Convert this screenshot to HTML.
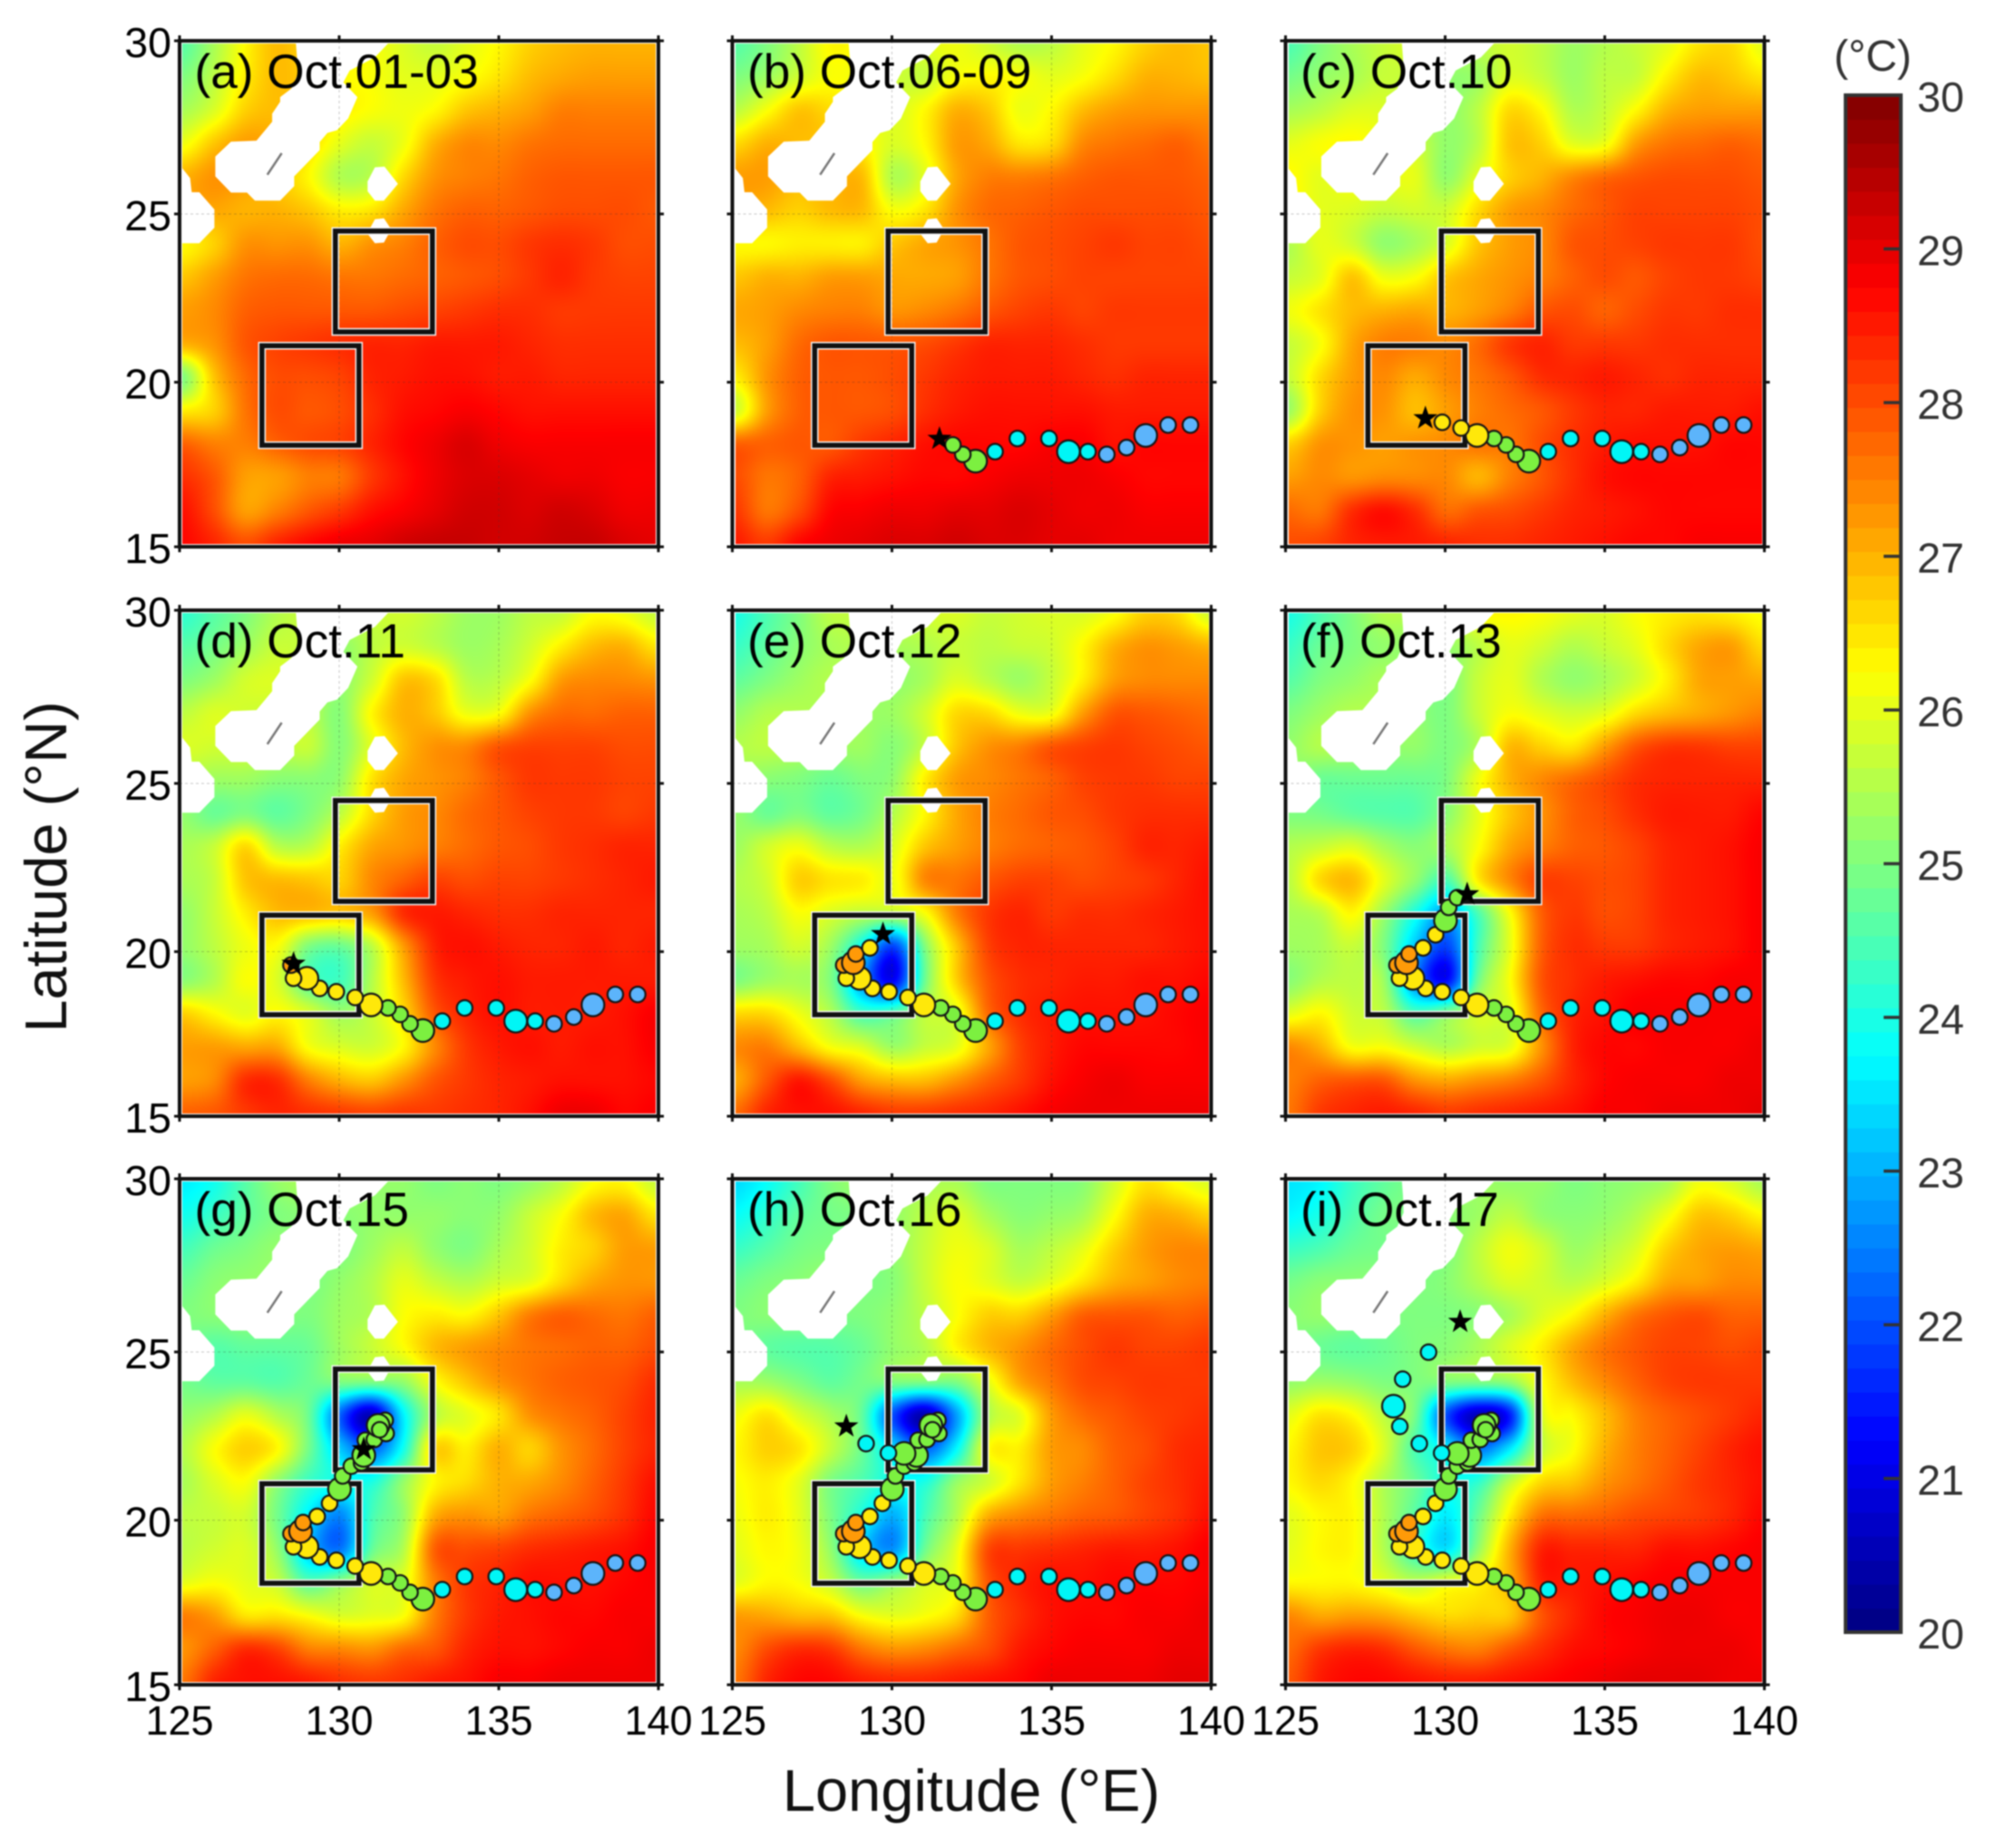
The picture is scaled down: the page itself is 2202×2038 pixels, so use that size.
<!DOCTYPE html>
<html lang="en">
<head>
<meta charset="utf-8">
<title>SST maps, Oct. 01-17</title>
<style>
html,body{margin:0;padding:0;background:#fff;}
#figure{position:relative;width:2202px;height:2038px;overflow:hidden;background:#fff;filter:blur(0.8px);font-family:"Liberation Sans",Arial,sans-serif;}
#figure canvas{position:absolute;display:block;}
#overlay{position:absolute;left:0;top:0;}
</style>
</head>
<body>
<div id="figure">
<svg id="overlay" width="2202" height="2038" viewBox="0 0 2202 2038" xmlns="http://www.w3.org/2000/svg"></svg>
</div>
<script>
// ---- chart data ----
const panelLabels = ["(a) Oct.01-03","(b) Oct.06-09","(c) Oct.10","(d) Oct.11","(e) Oct.12","(f) Oct.13","(g) Oct.15","(h) Oct.16","(i) Oct.17"];
const lonTicks = [125,130,135,140];
const latTicks = [15,20,25,30];
const colorbarTicks = [20,21,22,23,24,25,26,27,28,29,30];
const trackCounts = [0,13,17,21,24,28,36,39,43];
const starLon = [null,131.49,129.38,128.57,129.72,130.69,130.77,128.57,130.47];
const starLat = [null,18.2,18.81,19.52,20.4,21.58,21.98,22.66,25.76];
const trackLon = [139.35,138.65,137.95,137.35,136.73,136.14,135.53,134.92,133.93,133.23,132.62,132.22,131.91,131.53,131.0,130.5,129.91,129.39,128.99,128.57,128.49,128.79,128.87,129.31,129.7,130.01,130.11,130.38,130.7,130.77,130.82,131.1,131.47,131.44,131.22,131.27,130.38,129.89,129.19,128.58,128.38,128.67,129.48];
const trackLat = [18.61,18.61,18.3,17.94,17.74,17.82,17.82,18.21,18.21,17.82,17.54,17.74,18.02,18.21,18.3,18.52,18.69,18.79,19.09,19.09,19.48,19.55,19.81,19.99,20.38,20.8,21.19,21.48,21.58,21.8,22.25,22.27,22.45,22.84,22.69,22.56,21.86,21.87,22.15,22.66,23.26,24.06,24.86];
const trackClass = ["B","B","B","B","B","C","C","C","C","C","G","G","G","G","Y","Y","Y","Y","Y","Y","O","O","O","Y","Y","G","G","G","G","G","G","G","G","G","G","G","G","C","C","C","C","C","C"];
const trackBig = [0,0,1,0,0,0,1,0,0,0,1,0,0,0,1,0,0,0,1,0,0,1,0,0,0,1,0,0,0,1,0,0,0,0,1,0,1,0,0,0,1,0,0];
const boxLon = [[127.58,130.62],[129.88,132.92]];
const boxLat = [[18.01,20.96],[21.37,24.36]];
const landMain = [[128.64,30],[131.61,30],[131.12,29.51],[130.33,29.12],[130.13,28.77],[130.57,28.33],[130.28,27.7],[129.93,27.35],[129.63,27.27],[129.39,27.0],[129.39,26.76],[128.59,25.98],[128.59,25.69],[128.15,25.26],[127.36,25.26],[127.11,25.5],[126.61,25.5],[126.12,25.98],[126.12,26.57],[126.61,27.01],[127.41,27.04],[127.9,27.6],[127.9,27.84],[128.15,28.19],[128.15,28.33],[128.5,28.58],[128.7,29.0],[128.68,29.5]];
const landIslandA = [[130.89,25.83],[131.12,26.25],[131.42,26.27],[131.84,25.76],[131.4,25.26],[131.12,25.26],[130.89,25.54]];
const landIslandB = [[130.89,24.31],[131.12,24.71],[131.4,24.74],[131.63,24.41],[131.4,24.02],[131.12,24.0],[130.89,24.28]];
const landWest = [[125,26.23],[125.08,26.23],[125.33,25.93],[125.38,25.51],[125.62,25.51],[126.09,25.0],[126.09,24.46],[125.62,24.0],[125,24.0]];
const landSliver = [[127.75,26.03],[128.2,26.67]];

// SST on a 1-degree grid: rows lat 30..15, columns lon 125..140
const sstA = [
[24.6,25.4,26.3,26.9,26.6,26.3,26.2,25.9,25.7,26.0,26.3,26.7,26.9,27.0,27.0,27.0],
[25.0,25.6,26.4,26.9,26.7,26.3,26.2,26.0,26.0,26.2,26.5,26.9,27.1,27.2,27.2,27.2],
[25.4,25.9,26.7,26.9,26.7,26.4,26.2,26.1,26.3,26.8,27.0,27.2,27.5,27.5,27.5,27.5],
[26.1,26.8,27.2,27.0,26.6,26.0,25.7,26.1,27.0,27.4,27.4,27.6,27.7,27.7,27.7,27.7],
[27.0,27.3,27.2,26.8,26.3,25.5,25.6,26.6,27.3,27.5,27.6,27.8,27.9,27.9,27.9,27.9],
[27.0,27.1,27.0,27.0,26.8,26.4,26.5,27.1,27.6,27.8,27.8,27.9,28.0,28.0,28.0,27.9],
[26.3,26.7,27.3,27.3,27.3,27.0,27.3,27.5,27.8,28.0,28.0,28.2,28.3,28.2,28.0,28.0],
[26.8,27.2,27.6,27.7,27.7,27.6,27.6,27.7,27.8,27.9,28.0,28.2,28.4,28.2,28.1,28.1],
[27.2,27.4,27.8,27.9,27.9,27.9,27.9,28.0,28.1,28.2,28.3,28.3,28.2,28.2,28.2,28.2],
[27.0,27.3,27.9,28.1,28.2,28.3,28.4,28.4,28.5,28.5,28.5,28.4,28.3,28.3,28.3,28.3],
[25.0,26.8,27.7,28.0,28.0,28.1,28.4,28.5,28.6,28.6,28.5,28.5,28.4,28.4,28.4,28.4],
[26.4,26.7,27.6,28.0,27.9,28.0,28.3,28.6,28.7,28.8,28.7,28.6,28.6,28.6,28.6,28.6],
[27.8,27.5,27.5,27.8,28.0,28.1,28.4,28.7,28.9,29.1,28.9,28.8,28.8,28.8,28.8,28.8],
[28.3,27.9,27.2,27.2,27.5,27.6,28.2,28.6,28.9,29.1,29.1,29.0,28.9,28.9,28.8,28.8],
[28.6,28.0,27.2,27.5,27.9,28.2,28.6,28.8,29.0,29.2,29.2,29.1,29.2,29.1,28.9,28.9],
[28.7,28.4,28.0,28.4,28.7,28.9,29.0,29.2,29.3,29.3,29.2,29.2,29.3,29.3,29.1,29.0]];
const sstB = [
[24.6,25.0,25.6,26.3,26.2,25.9,26.0,26.1,25.8,25.5,25.6,26.0,26.3,26.7,26.9,26.8],
[25.0,25.3,25.8,26.2,26.1,25.8,25.7,26.2,26.3,26.2,26.0,26.2,26.6,27.0,27.0,26.9],
[25.6,26.2,26.8,26.6,26.3,25.9,26.3,27.0,26.8,26.1,26.3,26.9,27.2,27.3,27.3,27.3],
[26.6,27.0,26.9,26.8,26.4,25.9,26.3,27.2,27.1,26.5,26.6,27.4,27.6,27.7,27.8,27.6],
[27.2,27.2,26.9,26.9,26.9,25.5,26.0,27.1,27.5,27.5,27.6,27.8,27.9,27.9,27.9,27.8],
[27.0,26.9,26.7,26.9,26.9,26.2,26.5,27.3,27.7,27.8,27.9,28.0,28.0,28.0,28.0,27.9],
[26.3,26.3,26.4,26.4,26.4,26.8,27.1,27.3,27.6,27.9,28.0,28.1,28.2,28.1,28.1,28.0],
[26.8,27.0,27.0,27.2,27.2,27.1,27.1,27.2,27.6,27.9,28.0,28.1,28.1,28.1,28.1,28.1],
[27.1,27.2,27.4,27.5,27.5,27.3,27.4,27.6,27.9,28.1,28.2,28.1,28.2,28.2,28.2,28.2],
[26.9,27.2,27.7,27.9,27.9,27.9,28.0,28.2,28.4,28.4,28.4,28.3,28.2,28.2,28.2,28.2],
[26.4,27.3,27.8,27.9,27.9,28.0,28.2,28.4,28.5,28.5,28.5,28.4,28.3,28.4,28.4,28.4],
[25.8,27.2,27.8,27.9,27.9,28.0,28.3,28.5,28.6,28.6,28.6,28.6,28.5,28.5,28.5,28.5],
[27.8,27.8,27.9,27.9,28.2,28.4,28.6,28.7,28.7,28.7,28.8,28.8,28.6,28.7,28.7,28.7],
[28.0,27.6,27.8,28.4,28.5,28.6,28.7,28.7,28.8,28.9,28.9,28.9,28.8,28.7,28.7,28.7],
[28.2,27.6,28.0,28.7,28.8,28.9,28.9,29.0,29.0,29.1,29.0,28.9,28.9,28.8,28.8,28.8],
[28.5,28.2,28.7,28.9,29.0,29.1,29.1,29.2,29.1,29.1,29.0,29.0,28.9,28.9,28.9,28.9]];
const sstC = [
[24.5,25.0,25.4,25.7,25.9,25.6,25.6,25.8,25.6,25.3,25.5,25.7,26.0,26.5,26.6,26.0],
[24.9,25.2,25.4,25.7,25.6,25.2,25.3,25.9,25.7,25.3,25.6,25.7,26.4,26.9,26.8,26.5],
[25.4,25.6,25.9,25.9,25.6,25.2,25.6,26.6,26.3,25.5,25.7,26.3,27.0,27.2,27.2,27.2],
[26.0,26.2,26.3,26.1,25.8,25.2,25.6,26.8,26.7,26.0,26.1,27.2,27.6,27.7,27.8,27.7],
[26.3,26.0,26.2,26.0,26.0,25.2,26.0,26.7,27.0,27.4,27.7,27.9,28.0,28.0,28.0,27.9],
[26.2,26.0,25.9,25.7,25.8,25.8,26.6,27.2,27.4,27.7,27.9,28.1,28.1,28.1,28.1,28.0],
[25.5,26.0,25.8,25.2,25.4,25.9,26.8,27.2,27.4,27.9,28.0,28.1,28.2,28.2,28.2,28.0],
[25.7,26.0,26.8,26.1,26.2,26.8,27.1,27.3,27.5,27.8,28.0,27.9,28.1,28.2,28.2,28.1],
[26.1,26.5,26.9,27.0,27.1,27.0,27.2,27.5,27.9,28.0,27.8,28.0,28.2,28.2,28.3,28.3],
[25.7,26.2,27.1,27.5,27.5,27.4,27.7,28.2,28.4,28.2,28.2,28.2,28.3,28.3,28.3,28.3],
[25.7,26.6,27.2,27.4,27.1,27.4,27.6,27.9,28.3,28.4,28.5,28.4,28.3,28.4,28.4,28.4],
[25.3,26.7,27.3,27.3,26.9,27.2,27.5,27.7,27.9,28.2,28.4,28.4,28.5,28.5,28.5,28.6],
[26.7,27.3,27.3,27.2,27.3,27.4,27.6,27.6,28.0,28.3,28.5,28.6,28.6,28.6,28.7,28.7],
[27.2,27.4,27.3,27.4,27.4,27.4,27.0,27.5,27.9,28.3,28.6,28.7,28.7,28.7,28.7,28.7],
[27.7,27.6,28.3,28.6,28.3,27.7,27.9,28.0,28.2,28.4,28.5,28.6,28.7,28.7,28.7,28.7],
[28.0,28.1,28.4,28.5,28.5,28.4,28.3,28.3,28.4,28.5,28.6,28.7,28.7,28.8,28.8,28.8]];
const sstD = [
[24.2,24.6,25.0,25.5,25.7,25.6,25.7,25.8,25.6,25.3,25.3,25.6,25.7,26.2,26.1,25.7],
[24.6,24.9,25.3,25.7,25.6,25.2,25.6,25.8,25.6,25.3,25.4,25.8,26.4,26.9,27.0,26.5],
[25.0,25.3,25.8,25.9,25.7,25.2,25.8,26.8,26.6,25.6,25.6,26.2,27.2,27.4,27.4,27.3],
[25.6,25.9,25.8,25.7,25.6,25.1,26.3,27.0,26.8,26.1,26.2,27.3,27.7,27.7,27.8,27.8],
[25.9,25.8,25.8,25.6,25.7,25.1,26.0,26.9,27.3,27.4,27.9,28.1,28.1,28.1,28.0,28.0],
[25.5,25.3,25.3,25.1,25.1,25.2,26.5,27.1,27.3,27.5,27.9,28.2,28.2,28.2,28.1,28.1],
[25.2,24.8,25.0,24.7,25.0,25.6,26.6,27.2,27.4,27.7,27.9,28.1,28.2,28.2,28.1,28.2],
[25.4,25.7,26.6,25.6,25.6,26.4,27.1,27.3,27.5,27.7,27.9,28.0,28.2,28.3,28.4,28.4],
[25.4,25.7,26.8,26.9,26.8,26.7,27.4,27.8,28.1,28.0,28.1,28.1,28.2,28.3,28.4,28.5],
[25.2,25.7,26.4,26.9,26.9,26.8,27.2,28.3,28.5,28.4,28.3,28.3,28.4,28.4,28.4,28.4],
[25.2,25.6,26.1,26.2,25.0,24.8,25.6,27.2,28.4,28.6,28.5,28.4,28.4,28.5,28.4,28.5],
[25.1,25.5,26.2,25.9,24.6,24.4,25.5,26.9,28.2,28.5,28.6,28.5,28.5,28.5,28.5,28.5],
[26.7,26.3,26.0,26.3,25.9,25.3,25.7,26.6,27.9,28.4,28.6,28.5,28.5,28.5,28.6,28.8],
[27.2,27.2,27.1,27.1,26.2,25.9,25.8,26.3,27.4,28.2,28.5,28.6,28.5,28.6,28.6,28.8],
[27.2,27.4,28.3,28.3,27.5,27.0,26.8,27.3,27.9,28.2,28.4,28.5,28.6,28.6,28.6,28.7],
[27.8,27.9,28.2,28.4,28.3,28.2,28.1,28.2,28.2,28.3,28.4,28.6,28.9,28.9,28.7,28.8]];
const sstE = [
[24.0,24.5,25.0,25.6,25.6,25.6,25.8,25.9,25.7,25.8,25.9,25.9,26.2,26.7,26.6,25.8],
[24.3,24.7,25.1,25.4,25.5,25.4,25.5,25.7,25.6,25.7,25.8,26.3,27.0,27.3,27.2,27.0],
[24.7,25.0,25.3,25.5,25.4,25.2,25.4,25.9,25.6,25.3,25.7,26.4,27.2,27.4,27.4,27.4],
[25.2,25.5,25.5,25.4,25.3,25.3,25.8,26.6,26.6,26.1,26.1,27.2,27.9,27.9,27.8,27.7],
[25.5,25.6,25.5,25.3,25.3,25.1,25.7,26.8,27.3,27.5,27.9,28.1,28.2,28.1,28.0,27.9],
[25.3,25.1,25.0,24.8,25.0,25.2,26.4,27.2,27.4,27.6,27.8,28.1,28.2,28.2,28.1,28.1],
[25.2,24.8,25.0,24.7,24.9,25.5,26.3,27.1,27.5,27.7,27.9,28.0,28.2,28.3,28.3,28.3],
[25.3,25.8,26.1,25.6,25.5,25.9,26.8,27.2,27.5,27.7,27.8,27.9,28.1,28.4,28.4,28.5],
[25.5,25.8,26.7,26.5,26.4,26.1,27.4,27.6,27.9,28.1,28.1,28.0,28.1,28.2,28.4,28.6],
[25.4,25.6,26.2,25.9,25.6,25.6,26.2,27.5,28.2,28.4,28.2,28.3,28.3,28.4,28.5,28.6],
[25.3,25.4,25.8,25.3,23.8,21.9,25.0,26.8,28.1,28.4,28.4,28.4,28.4,28.4,28.5,28.6],
[25.0,25.3,25.4,25.0,22.8,21.2,24.8,26.7,27.9,28.3,28.4,28.5,28.5,28.6,28.6,28.7],
[26.6,26.6,26.1,25.5,24.4,24.6,25.6,26.0,27.7,28.3,28.5,28.6,28.6,28.6,28.7,28.8],
[27.4,27.5,26.9,26.2,25.9,25.3,25.7,26.0,27.1,28.1,28.5,28.7,28.7,28.7,28.7,28.8],
[27.1,27.9,28.5,28.0,27.2,26.9,26.9,27.3,27.8,28.2,28.6,28.8,28.9,28.8,28.8,28.8],
[27.7,28.4,28.6,28.6,28.4,28.2,28.2,28.3,28.4,28.6,28.8,28.9,28.9,28.9,28.9,28.9]];
const sstF = [
[24.0,24.5,25.0,25.5,25.5,25.6,26.2,26.3,26.2,26.0,25.9,26.2,26.4,26.5,26.4,26.2],
[24.3,24.8,25.0,25.2,25.2,25.2,25.6,26.0,25.8,25.5,25.7,26.0,26.6,27.1,27.2,26.6],
[24.6,25.0,25.2,25.4,25.2,25.0,25.7,26.0,25.5,25.2,25.4,25.8,26.4,27.1,27.2,27.1],
[25.0,25.3,25.5,25.4,25.2,25.0,25.7,26.2,26.0,25.8,26.0,26.6,26.9,27.1,27.3,27.5],
[25.2,25.5,25.4,25.2,25.2,25.0,25.5,26.9,26.7,26.5,27.2,27.9,28.2,28.2,28.1,28.1],
[25.2,24.8,24.8,24.8,24.8,25.0,26.1,27.0,27.4,27.7,28.0,28.3,28.4,28.4,28.4,28.4],
[25.0,24.9,24.7,24.6,24.6,25.1,26.0,26.8,27.3,27.8,28.0,28.3,28.5,28.5,28.5,28.7],
[25.5,25.7,25.9,25.4,25.1,25.4,26.2,27.1,27.5,27.8,27.9,28.1,28.4,28.5,28.6,28.8],
[25.6,26.6,26.9,26.0,25.2,24.5,26.4,27.4,28.1,28.1,28.0,28.1,28.4,28.5,28.6,28.8],
[25.4,25.6,26.3,25.3,24.0,22.9,24.5,26.2,27.8,28.2,28.0,28.1,28.4,28.5,28.6,28.8],
[25.3,25.4,25.7,25.0,23.2,21.9,24.4,26.0,27.8,28.3,28.2,28.2,28.4,28.5,28.6,28.8],
[25.1,25.5,25.6,25.3,22.6,21.3,24.8,26.2,27.9,28.3,28.5,28.6,28.7,28.7,28.8,28.8],
[26.0,26.3,25.8,25.6,24.5,25.0,25.8,26.0,27.7,28.4,28.6,28.8,28.8,28.8,28.8,28.8],
[27.4,27.0,26.2,26.2,25.8,25.5,25.8,26.0,27.3,28.4,28.7,28.7,28.8,28.8,28.8,28.9],
[27.5,27.8,27.9,27.9,27.3,27.1,27.3,27.5,27.9,28.4,28.7,28.8,28.8,28.8,28.9,28.9],
[27.6,28.2,28.4,28.5,28.4,28.2,28.3,28.4,28.5,28.6,28.8,28.8,28.9,28.9,28.9,29.0]];
const sstG = [
[23.6,23.9,24.6,25.2,25.4,25.3,25.2,25.2,25.0,25.1,25.0,25.2,25.6,26.2,26.3,25.7],
[23.9,24.3,24.7,25.0,25.1,25.1,25.2,25.2,25.2,25.1,25.2,25.7,26.2,26.9,27.1,26.5],
[24.4,24.8,25.0,25.2,25.1,25.0,25.3,25.6,25.2,25.0,25.4,25.8,26.4,26.7,27.2,27.2],
[24.8,25.1,25.2,25.2,25.0,25.2,25.5,26.0,25.7,25.5,25.8,26.0,26.6,27.1,27.3,27.3],
[25.0,25.1,25.2,25.1,25.0,25.3,25.5,26.2,26.4,26.3,26.8,27.5,27.8,27.7,27.6,27.8],
[24.9,24.6,24.7,24.7,24.8,25.3,25.7,26.2,26.9,27.2,27.4,27.6,27.7,27.8,27.8,28.0],
[24.9,24.7,24.7,24.6,24.8,25.0,25.0,25.2,26.2,26.8,27.3,27.6,27.8,27.9,28.0,28.3],
[25.2,25.5,26.0,25.5,24.8,22.2,20.6,23.6,25.5,26.0,26.5,27.3,27.6,27.8,28.1,28.4],
[25.5,26.2,26.7,26.3,24.9,23.2,22.2,23.9,26.6,26.4,27.0,26.7,27.3,27.7,28.1,28.4],
[25.4,25.9,26.2,25.2,24.3,23.9,24.0,25.2,26.3,26.6,27.0,27.1,27.4,27.8,28.2,28.6],
[25.6,25.7,25.8,24.9,23.6,22.6,24.4,25.2,27.0,27.3,27.2,27.6,27.8,28.0,28.3,28.7],
[25.6,25.8,25.9,25.2,23.2,22.4,24.7,25.5,27.8,28.0,28.1,28.3,28.4,28.5,28.6,28.8],
[26.0,26.2,26.0,25.7,24.6,25.1,25.8,26.0,27.5,28.2,28.4,28.6,28.6,28.6,28.7,28.8],
[27.5,27.2,26.5,26.5,26.2,25.9,26.0,26.2,27.5,28.2,28.5,28.6,28.7,28.7,28.8,28.8],
[27.3,27.8,28.3,28.1,27.5,27.4,27.3,27.7,27.9,28.4,28.6,28.6,28.7,28.8,28.8,28.9],
[27.6,28.4,28.6,28.6,28.5,28.3,28.2,28.3,28.5,28.6,28.8,28.8,28.9,28.9,28.9,28.9]];
const sstH = [
[23.4,23.8,24.4,25.0,25.3,25.3,25.4,25.4,25.0,25.0,25.0,25.1,25.8,26.5,26.2,25.9],
[23.8,24.2,24.7,24.9,25.0,25.2,25.6,25.9,25.4,25.1,25.2,25.4,26.2,27.0,27.0,26.7],
[24.3,24.6,24.9,25.0,25.0,25.2,25.7,26.1,25.9,25.4,25.6,26.0,26.7,27.2,27.4,27.4],
[24.8,25.0,25.1,25.2,25.0,25.1,25.7,26.2,26.0,25.7,26.0,26.5,27.0,27.2,27.4,27.5],
[25.0,25.1,25.1,25.0,25.0,25.2,25.6,26.2,26.7,26.7,27.2,27.8,27.9,27.9,27.8,27.9],
[25.0,24.7,24.6,24.6,24.8,25.2,25.5,26.3,26.9,27.3,27.7,28.0,28.2,28.1,28.1,28.2],
[25.4,25.3,25.0,24.7,24.9,25.0,25.0,25.0,26.0,27.1,27.6,28.0,28.1,28.2,28.2,28.2],
[26.1,26.5,25.9,25.4,24.7,22.0,20.5,22.8,25.4,26.0,27.2,27.7,27.9,28.1,28.2,28.3],
[26.3,26.7,26.5,25.7,24.8,23.4,22.2,23.7,26.2,26.4,27.2,27.4,27.8,28.0,28.3,28.4],
[26.2,26.4,26.0,25.0,24.5,23.9,24.0,25.2,25.8,26.5,27.2,27.5,27.8,28.1,28.3,28.5],
[26.1,26.4,26.0,25.0,24.0,23.0,24.4,25.5,27.0,27.4,27.6,27.8,27.9,28.1,28.3,28.6],
[26.0,26.3,26.1,25.2,23.4,22.7,24.8,26.0,28.0,28.2,28.3,28.4,28.5,28.5,28.6,28.8],
[26.0,26.3,26.2,25.7,24.8,25.2,25.8,26.2,27.9,28.4,28.6,28.6,28.7,28.7,28.7,28.8],
[27.2,27.1,26.9,26.8,26.2,26.0,26.2,26.6,27.8,28.3,28.6,28.7,28.7,28.8,28.8,28.9],
[27.4,28.0,28.3,28.2,27.6,27.3,27.4,27.7,28.0,28.5,28.7,28.8,28.8,28.8,28.9,28.9],
[27.6,28.4,28.7,28.7,28.5,28.4,28.4,28.5,28.6,28.7,28.9,28.9,28.9,28.9,29.0,29.0]];
const sstI = [
[23.5,23.7,24.3,24.7,25.0,25.3,25.3,25.2,25.2,25.0,25.1,25.2,25.4,26.1,25.9,25.4],
[23.7,24.0,24.5,24.9,25.0,25.1,25.3,25.6,25.2,25.1,25.2,25.5,26.1,26.8,26.7,26.3],
[24.3,24.5,24.8,24.9,24.9,25.0,25.6,26.1,25.8,25.3,25.5,25.9,26.7,27.1,27.2,27.1],
[24.9,25.1,25.1,25.1,25.0,25.1,25.5,25.9,25.8,25.6,25.9,26.4,27.1,27.2,27.4,27.4],
[25.1,25.2,25.1,25.0,25.0,25.0,25.1,25.4,25.9,26.3,27.0,27.6,27.9,28.0,27.8,27.8],
[25.0,24.8,24.7,24.8,25.0,25.1,25.4,25.9,26.4,27.1,27.6,27.9,28.1,28.1,28.0,28.1],
[25.2,25.3,25.2,25.0,25.0,25.0,25.0,25.2,26.2,26.9,27.4,27.8,28.1,28.2,28.2,28.2],
[26.0,26.5,26.3,25.6,24.9,22.0,20.6,21.5,25.8,26.3,26.9,27.5,27.8,28.0,28.2,28.4],
[26.3,26.8,26.7,25.9,24.5,23.6,22.4,23.5,25.6,26.2,27.0,27.5,27.8,28.1,28.4,28.6],
[26.3,26.6,26.3,25.5,24.8,24.0,24.2,25.6,26.6,26.8,27.3,27.6,27.9,28.2,28.4,28.6],
[26.0,26.3,26.3,25.5,24.6,23.6,24.8,26.4,27.6,27.7,27.8,28.0,28.1,28.2,28.4,28.7],
[26.0,26.3,26.3,25.5,24.3,23.5,25.2,27.0,28.4,28.4,28.4,28.4,28.6,28.6,28.7,28.8],
[26.3,26.3,26.3,26.0,25.6,26.0,26.3,27.0,28.4,28.5,28.6,28.7,28.8,28.8,28.8,28.8],
[27.4,27.1,27.2,27.1,26.8,26.6,26.7,26.8,27.9,28.4,28.7,28.8,28.9,28.9,28.8,28.8],
[27.7,28.2,28.4,28.3,27.9,27.6,27.5,27.9,28.3,28.6,28.7,28.8,28.9,28.9,28.9,28.8],
[27.9,28.5,28.7,28.7,28.6,28.5,28.5,28.6,28.7,28.8,28.9,29.0,29.0,29.0,28.9,28.9]];
const sstFields = [sstA,sstB,sstC,sstD,sstE,sstF,sstG,sstH,sstI];

// ---- layout ----
const classColors = {B:"#5cb4fb",C:"#00f6f6",G:"#7cf040",Y:"#ffe80a",O:"#ff9a08"};
const colLeft = [198,807.5,1417.5];
const rowTop = [45,673,1300];
const panelW = 528, panelH = 558;
const barX = 2035, barW = 61, barTop = 105, barBottom = 1800;
const SVGNS = "http://www.w3.org/2000/svg";
const figure = document.getElementById("figure");
const overlay = document.getElementById("overlay");

function mk(tag, attrs, parent, txt){
  const n = document.createElementNS(SVGNS, tag);
  for (const k in attrs) n.setAttribute(k, attrs[k]);
  if (txt !== undefined) n.textContent = txt;
  (parent || overlay).appendChild(n);
  return n;
}
function clamp01(v){ return v < 0 ? 0 : v > 1 ? 1 : v; }
function jet(t){
  return [clamp01(1.5-Math.abs(4*t-3)), clamp01(1.5-Math.abs(4*t-2)), clamp01(1.5-Math.abs(4*t-1))];
}
function tempToUnit(v){ return clamp01((v-20)/10); }
function mercator(lat){ return Math.log(Math.tan(Math.PI/4 + lat*Math.PI/360)); }
// the map's latitude axis is slightly stretched toward the pole
function latTickFraction(lat){
  const merc = (mercator(30)-mercator(lat))/(mercator(30)-mercator(15));
  const lin = (30-lat)/15;
  return 0.7*merc + 0.3*lin;
}
function cr(p0,p1,p2,p3,t){
  return 0.5*((2*p1)+(-p0+p2)*t+(2*p0-5*p1+4*p2-p3)*t*t+(-p0+3*p1-3*p2+p3)*t*t*t);
}
function sample(grid, gx, gy){
  const rows = grid.length, cols = grid[0].length;
  const ix = Math.min(cols-2, Math.floor(gx)), iy = Math.min(rows-2, Math.floor(gy));
  const fx = gx-ix, fy = gy-iy;
  const col = [];
  for (let j=-1;j<=2;j++){
    const r = grid[Math.max(0,Math.min(rows-1,iy+j))];
    col.push(cr(r[Math.max(0,ix-1)], r[ix], r[ix+1], r[Math.min(cols-1,ix+2)], fx));
  }
  return cr(col[0],col[1],col[2],col[3],fy);
}
function drawHeatmap(ctx, grid, w, h){
  const img = ctx.createImageData(w,h);
  const d = img.data;
  for (let y=0;y<h;y++){
    const gy = (y+0.5)/h*(grid.length-1);
    for (let x=0;x<w;x++){
      const gx = (x+0.5)/w*(grid[0].length-1);
      const c = jet(tempToUnit(sample(grid,gx,gy)));
      const o = (y*w+x)*4;
      d[o]=c[0]*255; d[o+1]=c[1]*255; d[o+2]=c[2]*255; d[o+3]=255;
    }
  }
  ctx.putImageData(img,0,0);
}
function polyPoints(list, sx, sy){
  return list.map(function(p){ return sx(p[0]).toFixed(1)+","+sy(p[1]).toFixed(1); }).join(" ");
}
function starPoints(cx, cy, R){
  const pts = [];
  for (let i=0;i<10;i++){
    const r = i%2 ? R*0.4 : R;
    const a = -Math.PI/2 + i*Math.PI/5;
    pts.push((cx+r*Math.cos(a)).toFixed(1)+","+(cy+r*Math.sin(a)).toFixed(1));
  }
  return pts.join(" ");
}

// ---- panels ----
panelLabels.forEach(function(label, idx){
  const col = idx%3, row = Math.floor(idx/3);
  const left = colLeft[col], top = rowTop[row];
  const letter = "abcdefghi"[idx];
  const sx = function(lon){ return left + (lon-125)/15*panelW; };
  const sy = function(lat){ return top + (30-lat)/15*panelH; };
  const tickY = function(lat){ return top + latTickFraction(lat)*panelH; };

  const cv = document.createElement("canvas");
  
  
  const inset = 3;
  cv.width = Math.round(panelW-2*inset);
  cv.height = Math.round(panelH-2*inset);
  cv.style.left = (left+inset)+"px";
  cv.style.top = (top+inset)+"px";
  figure.insertBefore(cv, overlay);
  drawHeatmap(cv.getContext("2d"), sstFields[idx], cv.width, cv.height);

  const g = mk("g", {});
  
  

  [landMain, landIslandA, landIslandB, landWest].forEach(function(land){
    const el = mk("polygon", {points: polyPoints(land,sx,sy), fill:"#fff"}, g);
    
    
  });
  const sliver = mk("polyline", {points: polyPoints(landSliver,sx,sy), fill:"none", stroke:"#777", "stroke-width":2.5}, g);
  
  

  [130,135].forEach(function(lon){
    const el = mk("line", {x1:sx(lon),x2:sx(lon),y1:top,y2:top+panelH,stroke:"rgba(50,50,50,.28)","stroke-width":1,"stroke-dasharray":"3 3"}, g);
    
    
  });
  [20,25].forEach(function(lat){
    const el = mk("line", {x1:left,x2:left+panelW,y1:tickY(lat),y2:tickY(lat),stroke:"rgba(50,50,50,.28)","stroke-width":1,"stroke-dasharray":"3 3"}, g);
    
    
  });

  boxLon.forEach(function(bx, b){
    const by = boxLat[b];
    const attrs = {x:sx(bx[0]),y:sy(by[1]),width:sx(bx[1])-sx(bx[0]),height:sy(by[0])-sy(by[1]),fill:"none"};
    const halo = mk("rect", Object.assign({stroke:"#f4f4f4","stroke-width":8.5}, attrs), g);
    
    
    const box = mk("rect", Object.assign({stroke:"#111","stroke-width":5.5}, attrs), g);
    
    
  });

  for (let i=0;i<trackCounts[idx];i++){
    const c = mk("circle", {cx:sx(trackLon[i]),cy:sy(trackLat[i]),r:trackBig[i]?12.5:8.6,fill:classColors[trackClass[i]],stroke:"#161616","stroke-width":2.2}, g);
    
    
  }
  if (starLon[idx] !== null){
    const s = mk("polygon", {points:starPoints(sx(starLon[idx]),sy(starLat[idx]),14),fill:"#000"}, g);
    
    
  }

  const frame = mk("rect", {x:left,y:top,width:panelW,height:panelH,fill:"none",stroke:"#111","stroke-width":4}, g);
  
  

  lonTicks.forEach(function(lon){
    [[top-6,top+1],[top+panelH-1,top+panelH+6]].forEach(function(t){
      const el = mk("line", {x1:sx(lon),x2:sx(lon),y1:t[0],y2:t[1],stroke:"#111","stroke-width":3}, g);
      
      
    });
  });
  latTicks.forEach(function(lat){
    [[left-6,left+1],[left+panelW-1,left+panelW+6]].forEach(function(t){
      const el = mk("line", {x1:t[0],x2:t[1],y1:tickY(lat),y2:tickY(lat),stroke:"#111","stroke-width":3}, g);
      
      
    });
  });

  const title = mk("text", {x:left+16.5,y:top+52,"font-size":53.2,fill:"#000","font-family":'"Liberation Sans",sans-serif'}, g, label);
  
  

  if (col === 0){
    latTicks.forEach(function(lat){
      const el = mk("text", {x:left-9,y:tickY(lat)+18,"font-size":46.5,"text-anchor":"end",fill:"#000","font-family":'"Liberation Sans",sans-serif'}, g, String(lat));
      
      
    });
  }
  if (row === 2){
    lonTicks.forEach(function(lon){
      const el = mk("text", {x:sx(lon),y:top+panelH+55,"font-size":45,"text-anchor":"middle",fill:"#000","font-family":'"Liberation Sans",sans-serif'}, g, String(lon));
      
      
    });
  }
});

// ---- axis titles ----
const xTitle = mk("text", {x:1071,y:1997,"font-size":65,"text-anchor":"middle",fill:"#111","font-family":'"Liberation Sans",sans-serif'}, overlay, "Longitude (°E)");


const yTitle = mk("text", {x:0,y:0,transform:"translate(73 956) rotate(-90)","font-size":65,"text-anchor":"middle",fill:"#111","font-family":'"Liberation Sans",sans-serif'}, overlay, "Latitude (°N)");



// ---- colorbar ----
const barY = function(v){ return barBottom - (v-20)/10*(barBottom-barTop); };
const barLevels = 64;
for (let i=0;i<barLevels;i++){
  const c = jet((i+0.5)/barLevels);
  const v0 = 20 + i/barLevels*10, v1 = 20 + (i+1)/barLevels*10;
  const r = mk("rect", {x:barX,y:barY(v1),width:barW,height:barY(v0)-barY(v1)+0.6,fill:"rgb("+Math.round(c[0]*255)+","+Math.round(c[1]*255)+","+Math.round(c[2]*255)+")"});
  
  
}
const barFrame = mk("rect", {x:barX,y:barTop,width:barW,height:barBottom-barTop,fill:"none",stroke:"#333","stroke-width":4});


colorbarTicks.forEach(function(v){
  if (v !== 20 && v !== 30){
    const t = mk("line", {x1:barX+barW-19,x2:barX+barW,y1:barY(v),y2:barY(v),stroke:"#333","stroke-width":3.5});
    
    
  }
  const l = mk("text", {x:2114,y:barY(v)+18,"font-size":46.5,fill:"#333","font-family":'"Liberation Sans",sans-serif'}, overlay, String(v));
  
  
});
const barUnit = mk("text", {x:2065,y:78,"font-size":48,"text-anchor":"middle",fill:"#333","font-family":'"Liberation Sans",sans-serif'}, overlay, "(°C)");


</script>
</body>
</html>
